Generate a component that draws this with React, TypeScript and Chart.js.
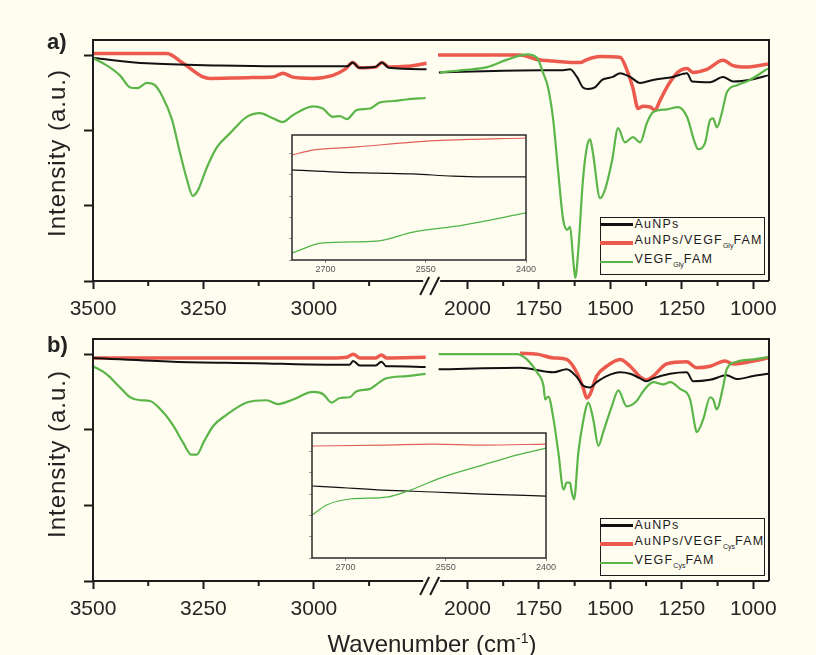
import React, { useEffect, useRef } from "react";
import { Chart, registerables } from "chart.js";

Chart.register(...registerables);

const BG = "#FEFDF0";
const INK = "#1c1c1c";
const RED = "#EC5A4E";
const GREEN = "#5BB548";
const BLACK = "#111111";
const FONT = "'Liberation Sans', Arial, Helvetica, sans-serif";

// ---- axes -------------------------------------------------------------
const HI_RANGE = [2730, 3500]; // high-wavenumber segment (left of the break)
const LO_RANGE = [945, 2120]; // fingerprint segment (right of the break)
const HI_TICKS = [3500, 3250, 3000];
const HI_MINOR = [3375, 3125, 2875];
const LO_TICKS = [2000, 1750, 1500, 1250, 1000];
const LO_MINOR = [1875, 1625, 1375, 1125];
const Y_TICKS = [0, 1, 2, 3];
const Y_MAX = 3.2;
const INSET_RANGE = [2400, 2750];
const INSET_TICKS = [2700, 2550, 2400];
const INSET_Y_TICKS = [0, 1, 2, 3, 4, 5];
const INSET_Y_MAX = 5.87;

// ---- panel a: AuNPs / AuNPs-VEGF(Gly)FAM / VEGF(Gly)FAM -----------------
const aBlackHiWn = [3500, 3378, 3213, 3077, 2925, 2912, 2898, 2862, 2846, 2830, 2745];
const aBlackHi = [2.96, 2.89, 2.86, 2.85, 2.85, 2.9, 2.83, 2.84, 2.9, 2.83, 2.81];
const aRedHiWn = [3500, 3333, 3296, 3251, 3235, 3150, 3092, 3070, 3050, 3002, 2957, 2930, 2912, 2896, 2860, 2846, 2830, 2790, 2745];
const aRedHi = [3.02, 3.02, 2.89, 2.71, 2.69, 2.7, 2.71, 2.76, 2.71, 2.69, 2.73, 2.81, 2.9, 2.83, 2.84, 2.9, 2.84, 2.85, 2.89];
const aGreenHiWn = [3500, 3468, 3439, 3416, 3400, 3378, 3360, 3342, 3321, 3303, 3287, 3274, 3262, 3242, 3219, 3190, 3152, 3122, 3093, 3071, 3048, 3002, 2980, 2957, 2941, 2925, 2903, 2873, 2851, 2821, 2790, 2747];
const aGreenHi = [2.96, 2.86, 2.73, 2.57, 2.56, 2.63, 2.6, 2.44, 2.14, 1.7, 1.34, 1.13, 1.21, 1.51, 1.78, 1.96, 2.18, 2.23, 2.16, 2.11, 2.2, 2.32, 2.29, 2.18, 2.19, 2.15, 2.27, 2.29, 2.37, 2.39, 2.41, 2.43];

const aBlackLoWn = [2100, 1746, 1665, 1641, 1617, 1596, 1578, 1554, 1529, 1491, 1466, 1431, 1396, 1351, 1281, 1232, 1214, 1151, 1106, 1071, 1001, 949];
const aBlackLo = [2.77, 2.8, 2.8, 2.81, 2.71, 2.57, 2.55, 2.57, 2.67, 2.71, 2.76, 2.71, 2.63, 2.67, 2.71, 2.76, 2.65, 2.64, 2.71, 2.65, 2.68, 2.73];
const aRedLoWn = [2103, 1816, 1756, 1700, 1606, 1582, 1536, 1466, 1442, 1421, 1403, 1386, 1361, 1344, 1326, 1298, 1267, 1232, 1211, 1162, 1106, 1071, 1022, 949];
const aRedLo = [3.0, 3.0, 2.94, 2.92, 2.9, 2.94, 2.98, 2.97, 2.8, 2.56, 2.29, 2.32, 2.31, 2.27, 2.4, 2.6, 2.76, 2.82, 2.77, 2.81, 2.93, 2.86, 2.84, 2.88];
const aGreenLoWn = [2096, 2015, 1931, 1861, 1791, 1756, 1735, 1718, 1700, 1683, 1665, 1651, 1641, 1630, 1623, 1613, 1596, 1582, 1571, 1561, 1536, 1519, 1494, 1473, 1449, 1421, 1396, 1372, 1351, 1302, 1263, 1232, 1204, 1193, 1169, 1151, 1141, 1127, 1110, 1092, 1057, 1012, 949];
const aGreenLo = [2.77, 2.8, 2.84, 2.94, 3.01, 2.96, 2.76, 2.57, 2.14, 1.47, 0.81, 0.68, 0.72, 0.28, 0.04, 0.37, 1.34, 1.78, 1.88, 1.7, 1.1, 1.21, 1.6, 2.03, 1.84, 1.91, 1.84, 2.1, 2.24, 2.28, 2.31, 2.18, 1.83, 1.75, 1.83, 2.14, 2.16, 2.04, 2.23, 2.51, 2.6, 2.67, 2.82];

const aRedInWn = [2750, 2719, 2653, 2569, 2518, 2400];
const aRedIn = [4.93, 5.16, 5.31, 5.54, 5.63, 5.73];
const aBlackInWn = [2750, 2683, 2623, 2569, 2509, 2439, 2400];
const aBlackIn = [4.23, 4.13, 4.08, 4.04, 3.94, 3.9, 3.9];
const aGreenInWn = [2750, 2704, 2623, 2569, 2494, 2400];
const aGreenIn = [0.33, 0.8, 0.89, 1.31, 1.64, 2.21];

// ---- panel b: AuNPs / AuNPs-VEGF(Cys)FAM / VEGF(Cys)FAM -----------------
const bBlackHiWn = [3500, 3318, 3130, 2971, 2919, 2911, 2896, 2860, 2847, 2836, 2821, 2747];
const bBlackHi = [2.95, 2.9, 2.88, 2.86, 2.86, 2.91, 2.85, 2.85, 2.9, 2.84, 2.84, 2.83];
const bRedHiWn = [3500, 3250, 2960, 2925, 2911, 2896, 2860, 2847, 2836, 2747];
const bRedHi = [2.95, 2.95, 2.95, 2.96, 3.0, 2.95, 2.95, 2.99, 2.95, 2.96];
const bGreenHiWn = [3500, 3470, 3439, 3416, 3393, 3371, 3341, 3318, 3296, 3277, 3265, 3250, 3228, 3197, 3152, 3107, 3081, 3047, 3002, 2979, 2960, 2941, 2919, 2903, 2873, 2851, 2836, 2790, 2747];
const bGreenHi = [2.84, 2.74, 2.56, 2.43, 2.39, 2.38, 2.23, 2.05, 1.83, 1.67, 1.67, 1.83, 2.05, 2.2, 2.36, 2.39, 2.34, 2.4, 2.5, 2.47, 2.36, 2.42, 2.43, 2.51, 2.54, 2.63, 2.68, 2.71, 2.74];

const bBlackLoWn = [2101, 1816, 1699, 1653, 1618, 1594, 1571, 1548, 1513, 1466, 1431, 1396, 1373, 1350, 1291, 1233, 1210, 1151, 1093, 1058, 1000, 948];
const bBlackLo = [2.8, 2.82, 2.76, 2.8, 2.7, 2.58, 2.56, 2.63, 2.71, 2.76, 2.74, 2.68, 2.64, 2.68, 2.74, 2.76, 2.64, 2.66, 2.72, 2.67, 2.71, 2.74];
const bRedLoWn = [1816, 1757, 1699, 1653, 1618, 1594, 1583, 1571, 1548, 1513, 1466, 1431, 1396, 1373, 1350, 1303, 1233, 1198, 1151, 1099, 1070, 1000, 948];
const bRedLo = [3.01, 3.0, 2.95, 2.93, 2.76, 2.54, 2.42, 2.47, 2.71, 2.84, 2.93, 2.84, 2.7, 2.66, 2.71, 2.87, 2.9, 2.82, 2.84, 2.91, 2.87, 2.91, 2.95];
const bGreenLoWn = [2101, 1827, 1792, 1757, 1734, 1728, 1717, 1699, 1682, 1664, 1653, 1641, 1635, 1627, 1612, 1594, 1577, 1560, 1542, 1525, 1495, 1472, 1443, 1408, 1385, 1350, 1315, 1291, 1256, 1221, 1204, 1198, 1175, 1151, 1140, 1128, 1105, 1093, 1058, 1000, 948];
const bGreenLo = [3.0, 3.0, 2.93, 2.76, 2.58, 2.4, 2.44, 2.14, 1.7, 1.21, 1.3, 1.3, 1.17, 1.08, 1.7, 2.14, 2.36, 2.14, 1.79, 1.97, 2.31, 2.52, 2.31, 2.38, 2.51, 2.63, 2.6, 2.63, 2.54, 2.4, 2.05, 1.97, 2.14, 2.43, 2.4, 2.27, 2.58, 2.8, 2.9, 2.93, 2.96];

const bRedInWn = [2750, 2644, 2569, 2494, 2400];
const bRedIn = [5.26, 5.3, 5.35, 5.3, 5.35];
const bBlackInWn = [2750, 2719, 2644, 2569, 2494, 2400];
const bBlackIn = [3.38, 3.33, 3.19, 3.1, 3.0, 2.91];
const bGreenInWn = [2750, 2728, 2693, 2638, 2603, 2554, 2494, 2443, 2400];
const bGreenIn = [2.02, 2.49, 2.77, 2.86, 3.19, 3.8, 4.37, 4.84, 5.16];

// ---- layout -------------------------------------------------------------
const PAGE_W = 816;
const AREA_LEFT = 93;
const AREA_RIGHT = 769;
const Y_AXIS_W = 10;
const X_AXIS_H = 45;

type Trace = { wn: number[]; val: number[]; color: string; width: number; order: number };

const points = (wn: number[], val: number[]) => wn.map((x, i) => ({ x, y: val[i] }));

const lineDataset = (t: Trace, xAxisID: string) => ({
  data: points(t.wn, t.val),
  xAxisID,
  yAxisID: "y",
  borderColor: t.color,
  borderWidth: t.width,
  order: t.order,
  pointRadius: 0,
  fill: false,
  cubicInterpolationMode: "monotone" as const,
  borderJoinStyle: "round" as const,
});

const setTicks = (list: number[]) => (scale: any) => {
  scale.ticks = list.map((value) => ({ value }));
};

// frame, broken bottom axis with "//" marks, and minor x ticks
const framePlugin = {
  id: "panelFrame",
  afterDraw(chart: any) {
    const { ctx, chartArea: a, scales } = chart;
    const hi = scales.xHi;
    const lo = scales.xLo;
    const bx = lo.left;
    ctx.save();
    ctx.strokeStyle = INK;
    ctx.lineWidth = 2;
    ctx.beginPath();
    ctx.moveTo(a.left, a.bottom);
    ctx.lineTo(a.left, a.top);
    ctx.lineTo(a.right, a.top);
    ctx.lineTo(a.right, a.bottom);
    ctx.moveTo(a.left, a.bottom);
    ctx.lineTo(bx - 10, a.bottom);
    ctx.moveTo(bx + 7, a.bottom);
    ctx.lineTo(a.right, a.bottom);
    ctx.stroke();
    ctx.beginPath();
    ctx.moveTo(bx - 13, a.bottom + 14);
    ctx.lineTo(bx - 4, a.bottom - 4);
    ctx.moveTo(bx - 3, a.bottom + 14);
    ctx.lineTo(bx + 6, a.bottom - 4);
    ctx.stroke();
    ctx.beginPath();
    const minor: [any, number[]][] = [
      [hi, HI_MINOR],
      [lo, LO_MINOR],
    ];
    for (const [scale, list] of minor) {
      for (const v of list) {
        const px = scale.getPixelForValue(v);
        ctx.moveTo(px, a.bottom);
        ctx.lineTo(px, a.bottom + 5);
      }
    }
    ctx.stroke();
    ctx.restore();
  },
};

const xScale = (range: number[], ticks: number[], weight: number) => ({
  type: "linear" as const,
  position: "bottom" as const,
  stack: "wavenumber",
  stackWeight: weight,
  min: range[0],
  max: range[1],
  reverse: true,
  afterBuildTicks: setTicks(ticks),
  afterFit: (s: any) => {
    s.height = X_AXIS_H;
  },
  border: { display: false },
  grid: { drawOnChartArea: false, drawTicks: true, tickLength: 8, tickWidth: 2, tickColor: INK },
  ticks: {
    autoSkip: false,
    maxRotation: 0,
    padding: 8,
    color: "#262626",
    font: { family: FONT, size: 21 },
    callback: (v: any) => String(v),
  },
});

function SpectrumPanel({ top, height, areaTop, areaBottom, hi, lo }: { top: number; height: number; areaTop: number; areaBottom: number; hi: Trace[]; lo: Trace[] }) {
  const ref = useRef<HTMLCanvasElement>(null);
  useEffect(() => {
    if (!ref.current) return;
    const datasets: any[] = [...hi.map((t) => lineDataset(t, "xHi")), ...lo.map((t) => lineDataset(t, "xLo"))];
    const chart = new Chart(ref.current, {
      type: "line",
      data: { datasets },
      options: {
        animation: false,
        responsive: false,
        events: [],
        layout: {
          padding: {
            left: AREA_LEFT - Y_AXIS_W,
            right: PAGE_W - AREA_RIGHT,
            top: areaTop - top,
            bottom: top + height - areaBottom - X_AXIS_H,
          },
        },
        plugins: { legend: { display: false }, tooltip: { enabled: false } },
        scales: {
          xHi: xScale(HI_RANGE, HI_TICKS, HI_RANGE[1] - HI_RANGE[0]) as any,
          xLo: xScale(LO_RANGE, LO_TICKS, (LO_RANGE[1] - LO_RANGE[0]) * 0.647) as any,
          y: {
            type: "linear",
            min: 0,
            max: Y_MAX,
            afterBuildTicks: setTicks(Y_TICKS),
            afterFit: (s: any) => {
              s.width = Y_AXIS_W;
            },
            border: { display: false },
            grid: { drawOnChartArea: false, drawTicks: true, tickLength: 9, tickWidth: 2, tickColor: INK },
            ticks: { display: false },
          },
        },
      },
      plugins: [framePlugin],
    });
    return () => chart.destroy();
  }, []);
  return <canvas ref={ref} width={PAGE_W} height={height} style={{ position: "absolute", left: 0, top }} />;
}

const insetPlugin = {
  id: "insetFrame",
  beforeDraw(chart: any) {
    const { ctx, chartArea: a } = chart;
    ctx.save();
    ctx.fillStyle = BG;
    ctx.fillRect(a.left, a.top, a.right - a.left, a.bottom - a.top);
    ctx.restore();
  },
  afterDraw(chart: any) {
    const { ctx, chartArea: a } = chart;
    ctx.save();
    ctx.strokeStyle = "#2a2a2a";
    ctx.lineWidth = 1.5;
    ctx.strokeRect(a.left, a.top, a.right - a.left, a.bottom - a.top);
    ctx.restore();
  },
};

function InsetChart({ left, top, traces }: { left: number; top: number; traces: Trace[] }) {
  const ref = useRef<HTMLCanvasElement>(null);
  useEffect(() => {
    if (!ref.current) return;
    const chart = new Chart(ref.current, {
      type: "line",
      data: {
        datasets: traces.map((t) => ({
          data: points(t.wn, t.val),
          borderColor: t.color,
          borderWidth: t.width,
          order: t.order,
          pointRadius: 0,
          fill: false,
          cubicInterpolationMode: "monotone" as const,
        })),
      },
      options: {
        animation: false,
        responsive: false,
        events: [],
        layout: { padding: { left: 18, top: 10, right: 24, bottom: 4 } },
        plugins: { legend: { display: false }, tooltip: { enabled: false } },
        scales: {
          x: {
            type: "linear",
            min: INSET_RANGE[0],
            max: INSET_RANGE[1],
            reverse: true,
            afterBuildTicks: setTicks(INSET_TICKS),
            afterFit: (s: any) => {
              s.height = 21;
            },
            border: { display: false },
            grid: { drawOnChartArea: false, tickLength: 3, tickWidth: 1, tickColor: "#888" },
            ticks: {
              autoSkip: false,
              maxRotation: 0,
              padding: 1,
              color: "#555",
              font: { family: FONT, size: 9 },
              callback: (v: any) => String(v),
            },
          },
          y: {
            type: "linear",
            min: 0,
            max: INSET_Y_MAX,
            afterBuildTicks: setTicks(INSET_Y_TICKS),
            afterFit: (s: any) => {
              s.width = 4;
            },
            border: { display: false },
            grid: { drawOnChartArea: false, tickLength: 3, tickWidth: 1, tickColor: "#999" },
            ticks: { display: false },
          },
        },
      },
      plugins: [insetPlugin],
    });
    return () => chart.destroy();
  }, []);
  return <canvas ref={ref} width={280} height={160} style={{ position: "absolute", left, top }} />;
}

function Legend({ left, top, peptide }: { left: number; top: number; peptide: string }) {
  const sub = <sub style={{ fontSize: 7, letterSpacing: 0, verticalAlign: -4 }}>{peptide}</sub>;
  const rows = [
    { color: BLACK, width: 3, label: <>AuNPs</> },
    { color: RED, width: 4, label: <>AuNPs/VEGF{sub}FAM</> },
    { color: GREEN, width: 2, label: <>VEGF{sub}FAM</> },
  ];
  return (
    <div
      style={{
        position: "absolute",
        left,
        top,
        width: 165,
        height: 58,
        boxSizing: "border-box",
        border: `1.5px solid ${INK}`,
        background: BG,
      }}
    >
      {rows.map((r, i) => (
        <div
          key={i}
          style={{ position: "absolute", left: -1.5, top: -1 + i * 19, height: 14, display: "flex", alignItems: "center", whiteSpace: "nowrap" }}
        >
          <span style={{ display: "inline-block", width: 33, height: r.width, background: r.color }} />
          <span style={{ marginLeft: 2, fontSize: 12.5, letterSpacing: 1.2, color: INK, lineHeight: "14px", fontFamily: FONT }}>{r.label}</span>
        </div>
      ))}
    </div>
  );
}

const text = (s: React.CSSProperties): React.CSSProperties => ({
  position: "absolute",
  whiteSpace: "nowrap",
  lineHeight: 1,
  color: "#222",
  fontFamily: FONT,
  ...s,
});

const panelA = {
  hi: [
    { wn: aRedHiWn, val: aRedHi, color: RED, width: 3.5, order: 2 },
    { wn: aBlackHiWn, val: aBlackHi, color: BLACK, width: 2, order: 1 },
    { wn: aGreenHiWn, val: aGreenHi, color: GREEN, width: 2.2, order: 0 },
  ],
  lo: [
    { wn: aRedLoWn, val: aRedLo, color: RED, width: 3.5, order: 2 },
    { wn: aBlackLoWn, val: aBlackLo, color: BLACK, width: 2, order: 1 },
    { wn: aGreenLoWn, val: aGreenLo, color: GREEN, width: 2.2, order: 0 },
  ],
  inset: [
    { wn: aRedInWn, val: aRedIn, color: "#E0605A", width: 1.2, order: 2 },
    { wn: aBlackInWn, val: aBlackIn, color: BLACK, width: 1.2, order: 1 },
    { wn: aGreenInWn, val: aGreenIn, color: "#4FB446", width: 1.2, order: 0 },
  ],
};

const panelB = {
  hi: [
    { wn: bRedHiWn, val: bRedHi, color: RED, width: 3.5, order: 2 },
    { wn: bBlackHiWn, val: bBlackHi, color: BLACK, width: 2, order: 1 },
    { wn: bGreenHiWn, val: bGreenHi, color: GREEN, width: 2.2, order: 0 },
  ],
  lo: [
    { wn: bRedLoWn, val: bRedLo, color: RED, width: 3.5, order: 2 },
    { wn: bBlackLoWn, val: bBlackLo, color: BLACK, width: 2, order: 1 },
    { wn: bGreenLoWn, val: bGreenLo, color: GREEN, width: 2.2, order: 0 },
  ],
  inset: [
    { wn: bRedInWn, val: bRedIn, color: "#E0605A", width: 1.2, order: 2 },
    { wn: bBlackInWn, val: bBlackIn, color: BLACK, width: 1.2, order: 1 },
    { wn: bGreenInWn, val: bGreenIn, color: "#4FB446", width: 1.2, order: 0 },
  ],
};

export default function App() {
  return (
    <div style={{ position: "fixed", left: 0, top: 0, width: PAGE_W, height: 655, background: BG, overflow: "hidden" }}>
      <SpectrumPanel top={0} height={340} areaTop={40} areaBottom={281} hi={panelA.hi} lo={panelA.lo} />
      <SpectrumPanel top={310} height={345} areaTop={339} areaBottom={581} hi={panelB.hi} lo={panelB.lo} />
      <InsetChart left={270} top={125} traces={panelA.inset} />
      <InsetChart left={290} top={423} traces={panelB.inset} />
      <Legend left={600} top={217} peptide="Gly" />
      <Legend left={600} top={518} peptide="Cys" />
      <div style={text({ left: 47, top: 31, fontSize: 22, fontWeight: "bold" })}>a)</div>
      <div style={text({ left: 47, top: 334, fontSize: 22, fontWeight: "bold" })}>b)</div>
      <div style={text({ left: 57, top: 153, fontSize: 24, letterSpacing: 1, transform: "translate(-50%, -50%) rotate(-90deg)" })}>Intensity (a.u.)</div>
      <div style={text({ left: 57, top: 454, fontSize: 24, letterSpacing: 1, transform: "translate(-50%, -50%) rotate(-90deg)" })}>Intensity (a.u.)</div>
      <div style={text({ left: 432, top: 631, fontSize: 24, transform: "translateX(-50%)" })}>
        Wavenumber (cm<sup style={{ fontSize: 14, verticalAlign: 9 }}>-1</sup>)
      </div>
    </div>
  );
}
